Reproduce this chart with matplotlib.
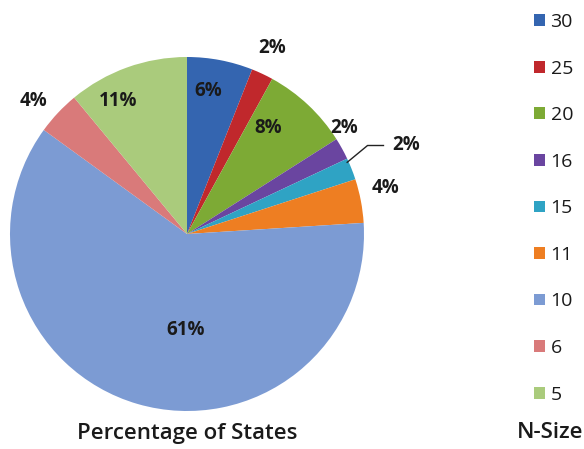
import matplotlib
matplotlib.use("Agg")
import matplotlib.pyplot as plt
from matplotlib.patches import Patch

categories = ["30", "25", "20", "16", "15", "11", "10", "6", "5"]
percentages = [6, 2, 8, 2, 2, 4, 61, 4, 11]
pct_labels = ["6%", "2%", "8%", "2%", "2%", "4%", "61%", "4%", "11%"]
colors = ["#3465B0", "#C0282C", "#7DAA35", "#6A45A0", "#2FA3C4",
          "#EE7E22", "#7C9BD3", "#D97A7A", "#AACB7C"]
# label positions relative to pie centre, in units of pie radius
label_pos = [(0.12, 0.81), (0.48, 1.05), (0.46, 0.60), (0.89, 0.60),
             (1.24, 0.50), (1.12, 0.26), (-0.01, -0.54), (-0.87, 0.75),
             (-0.39, 0.75)]

font = "Open Sans"

fig = plt.figure(figsize=(5.84, 4.49), dpi=100)
ax = fig.add_axes([10 / 584, 38 / 449, 354 / 584, 354 / 449])

wedges, _ = ax.pie(percentages, colors=colors, startangle=90, counterclock=False,
                   radius=1.0, center=(0, 0), frame=True,
                   wedgeprops=dict(linewidth=0, antialiased=True))
ax.set_xlim(-1, 1)
ax.set_ylim(-1, 1)
ax.axis("off")

for txt, (x, y) in zip(pct_labels, label_pos):
    ax.text(x, y, txt, ha="center", va="center", fontsize=13.5,
            fontweight="bold", family=font, color="#1a1a1a")

# leader line for the 15 slice
ax.plot([0.905, 1.02, 1.11], [0.405, 0.50, 0.50], color="#222222", lw=1.0,
        clip_on=False)

fig.text(187 / 584, 1 - 433 / 449, "Percentage of States", ha="center",
         va="center", fontsize=16, fontweight="semibold", family=font,
         color="#1a1a1a")

handles = [Patch(facecolor=c, edgecolor="none") for c in colors]
leg = fig.legend(handles, categories, loc="upper left",
                 bbox_to_anchor=(534 / 584, 1 - 13 / 449),
                 borderaxespad=0, borderpad=0,
                 frameon=False, handlelength=0.55, handleheight=0.55,
                 handletextpad=0.3, labelspacing=1.47,
                 prop=dict(family=font, size=14))
for t in leg.get_texts():
    t.set_color("#1a1a1a")

fig.text(583 / 584, 1 - 433 / 449, "N-Size", ha="right", va="center",
         fontsize=16, fontweight="semibold", family=font, color="#1a1a1a")

fig.savefig("out.png", dpi=100, facecolor="white")
